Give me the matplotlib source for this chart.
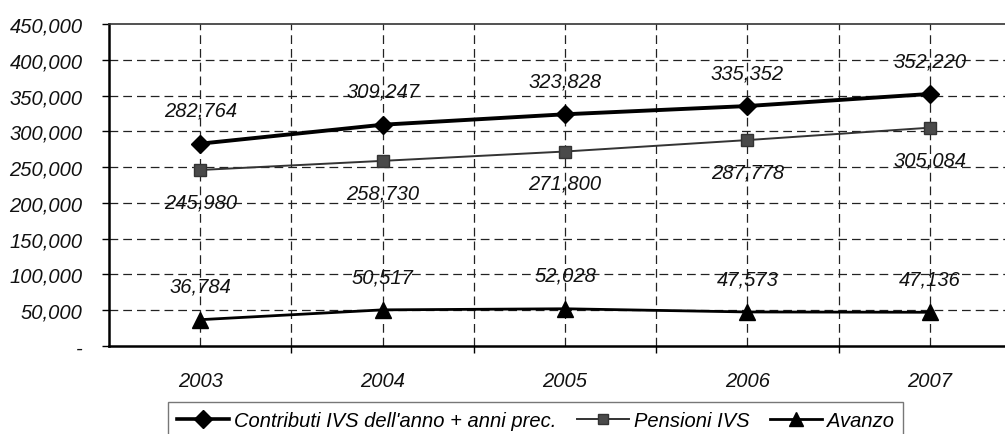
import matplotlib
matplotlib.use("Agg")
import matplotlib.pyplot as plt
from matplotlib.ticker import FuncFormatter, FixedLocator
from matplotlib.lines import Line2D

years = ["2003", "2004", "2005", "2006", "2007"]
contributi = [282764, 309247, 323828, 335352, 352220]
pensioni = [245980, 258730, 271800, 287778, 305084]
avanzo = [36784, 50517, 52028, 47573, 47136]
series_names = ["Contributi IVS dell'anno + anni prec.", "Pensioni IVS", "Avanzo"]
y_ticks = list(range(0, 450001, 50000))

plt.rcParams['font.family'] = ['Liberation Sans', 'DejaVu Sans']
FS = 14.5

fig = plt.figure(figsize=(10.05, 4.35), dpi=100)
W, H = 1005, 435
ax = fig.add_axes([109 / W, (H - 347) / H, (1021 - 109) / W, (347 - 25) / H])

x = list(range(len(years)))
ax.plot(x, contributi, color='black', lw=2.8, marker='D', ms=9, mfc='black', mec='black', zorder=5)
ax.plot(x, pensioni, color='#333333', lw=1.4, marker='s', ms=8, mfc='#4a4a4a', mec='#333333', zorder=5)
ax.plot(x, avanzo, color='black', lw=2.0, marker='^', ms=11, mfc='black', mec='black', zorder=5)

lab_kw = dict(textcoords='offset points', ha='center', va='center',
              fontsize=FS, style='italic', color='#111111')
for i in x:
    ax.annotate(f"{contributi[i]:,}", (i, contributi[i]), xytext=(0, 24), **lab_kw)
    ax.annotate(f"{pensioni[i]:,}", (i, pensioni[i]), xytext=(0, -23), **lab_kw)
    ax.annotate(f"{avanzo[i]:,}", (i, avanzo[i]), xytext=(0, 24), **lab_kw)

ax.set_xlim(-0.5, len(years) - 0.5)
ax.set_ylim(0, 450000)

ax.set_yticks(y_ticks)
ax.yaxis.set_major_formatter(FuncFormatter(lambda v, p: "-" if v == 0 else f"{int(v):,}"))
ax.set_xticks(x)
ax.set_xticklabels(years)
ax.xaxis.set_minor_locator(FixedLocator([i + 0.5 for i in range(len(years) - 1)]))

for lbl in ax.get_yticklabels() + ax.get_xticklabels():
    lbl.set_fontsize(FS)
    lbl.set_fontstyle('italic')
    lbl.set_color('#111111')

ax.tick_params(axis='y', direction='out', length=5, width=1, pad=14)
ax.tick_params(axis='x', which='major', length=0, pad=18)
ax.tick_params(axis='x', which='minor', direction='out', length=5, width=1)

grid_kw = dict(color='#222222', lw=0.9, ls=(0, (7, 4)), zorder=1)
for yv in y_ticks[1:-1]:
    ax.axhline(yv, **grid_kw)
for xv in [i * 0.5 for i in range(0, 2 * (len(years) - 1) + 1)]:
    ax.axvline(xv, **grid_kw)

ax.spines['left'].set_linewidth(1.8)
ax.spines['bottom'].set_linewidth(1.8)
ax.spines['top'].set_linewidth(1.2)
ax.spines['top'].set_color('#333333')
ax.spines['right'].set_visible(False)

handles = [
    Line2D([], [], color='black', lw=2.6, marker='D', ms=9),
    Line2D([], [], color='#333333', lw=1.4, marker='s', ms=7, mfc='#4a4a4a', mec='#333333'),
    Line2D([], [], color='black', lw=2.0, marker='^', ms=10),
]
leg = fig.legend(handles, series_names, loc='upper left',
                 bbox_to_anchor=(168 / W, 1 - 403 / H), ncol=3,
                 prop={'size': FS, 'style': 'italic'}, frameon=True, fancybox=False,
                 handlelength=2.6, handletextpad=0.25, columnspacing=1.0,
                 borderpad=0.45, borderaxespad=0)
leg.get_frame().set_edgecolor('#555555')
leg.get_frame().set_linewidth(1.0)

fig.savefig("out.png", dpi=100)
